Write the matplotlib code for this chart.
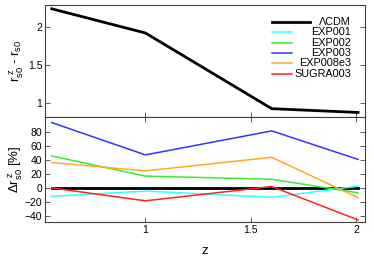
import matplotlib
matplotlib.use("Agg")
import matplotlib.pyplot as plt
from matplotlib.lines import Line2D

plt.rcParams['font.family'] = ['Liberation Sans', 'DejaVu Sans']
plt.rcParams['mathtext.fontset'] = 'custom'
plt.rcParams['mathtext.rm'] = 'Liberation Sans'
plt.rcParams['mathtext.it'] = 'Liberation Sans'

z = [0.555, 1.0, 1.6, 2.01]
lcdm_diff = [2.24, 1.92, 0.92, 0.87]

labels = ['ΛCDM', 'EXP001', 'EXP002', 'EXP003', 'EXP008e3', 'SUGRA003']
colors = ['black', '#33ffff', '#33ee33', '#3333ff', '#ffaa22', '#ff2222']
rel_lcdm = [0, 0, 0, 0]
rel_exp001 = [-12, -4.5, -13.5, 2.5]
rel_exp002 = [46, 17, 12.5, -7]
rel_exp003 = [94, 47.5, 82, 41]
rel_exp008e3 = [36.5, 24.5, 44, -14]
rel_sugra003 = [0, -18.5, 2, -46]
rel = [rel_lcdm, rel_exp001, rel_exp002, rel_exp003, rel_exp008e3, rel_sugra003]

fig = plt.figure(figsize=(3.74, 2.62), dpi=100)
L, W = 45/374, 320/374
ax1 = fig.add_axes([L, 1-117/262, W, 112/262])
ax2 = fig.add_axes([L, 1-222/262, W, 105/262])

spc = '0.25'
for ax in (ax1, ax2):
    for s in ax.spines.values():
        s.set_color(spc)
        s.set_linewidth(0.8)
    ax.tick_params(direction='in', length=3.5, width=0.6, color=spc,
                   labelsize=7.5, pad=2)
    ax.set_xlim(0.523, 2.043)
    ax.set_xticks([1, 1.5, 2])
    ax.set_xticklabels(['1', '1.5', '2'])

ax1.tick_params(right=True, top=False, labelbottom=False)
ax2.tick_params(right=True, top=True)

ax1.plot(z, lcdm_diff, color='black', lw=2.0)
ax1.set_ylim(0.81, 2.29)
ax1.set_yticks([1, 1.5, 2])
ax1.set_yticklabels(['1', '1.5', '2'])
ax1.set_ylabel(r'$\mathregular{r_{s0}^{\ z}}$ - $\mathregular{r_{s0}}$', fontsize=9.5, labelpad=1)

for i, (lab, c, vals) in enumerate(zip(labels, colors, rel)):
    lw = 2.0 if i == 0 else 1.1
    zo = 1 if i == 0 else 2
    ax2.plot(z, vals, color=c, lw=lw, label=lab, zorder=zo)

ax2.set_ylim(-49, 102)
ax2.set_yticks([-40, -20, 0, 20, 40, 60, 80])
ax2.set_ylabel(r'$\mathregular{\Delta r_{s0}^{\ z}}$ [%]', fontsize=9.5, labelpad=0)
ax2.set_xlabel('z', fontsize=9.5, labelpad=7)

# gnuplot-style key: swatch on the left, right-justified label
key_x0 = 0.709
key_text_x = 0.956
key_y0 = 0.848
key_dy = 10.3 / 112
for i, (lab, c) in enumerate(zip(labels, colors)):
    y = key_y0 - i * key_dy
    x1 = 0.828 if i == 0 else 0.772
    lw = 2.0 if i == 0 else 1.1
    ax1.add_line(Line2D([key_x0, x1], [y, y], color=c, lw=lw,
                        transform=ax1.transAxes))
    ax1.text(key_text_x, y, lab, transform=ax1.transAxes, ha='right',
             va='center', fontsize=7.8)

fig.savefig('out.png', dpi=100)
